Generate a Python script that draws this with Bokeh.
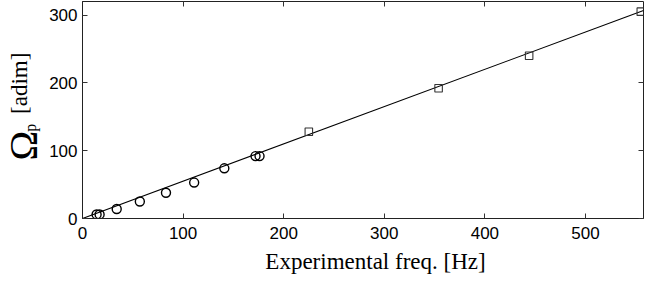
import math
from bokeh.plotting import figure
from bokeh.layouts import row, column
from bokeh.models import Range1d, LinearAxis, FixedTicker
from bokeh.core.properties import value
from bokeh.embed import file_html
from bokeh.resources import INLINE

# Data
circle_freq = [14, 17, 34, 57, 83, 111, 141, 172, 176]
circle_omega = [6, 6, 14, 25, 38, 53, 74, 92, 92]
square_freq = [225, 354, 444, 555]
square_omega = [128, 192, 240, 305]
fit_freq = [0, 557.7]
fit_omega = [0, 306.7]
x_ticks = [0, 100, 200, 300, 400, 500]
y_ticks = [0, 100, 200, 300]
x_label = "Experimental freq. [Hz]"
y_label_parts = ["Ω", "p", "[adim]"]

TOP_H = 244
W = 644
H = 274
YL_W = 46

p = figure(width=W - YL_W, height=TOP_H, output_backend="svg", toolbar_location=None,
           x_range=Range1d(0, 557.7), y_range=Range1d(0, 320),
           min_border_left=81 - YL_W, min_border_right=1, min_border_top=1,
           min_border_bottom=26)
p.grid.visible = False
p.outline_line_color = "#222222"
p.outline_line_width = 1

p.line(fit_freq, fit_omega, line_color="black", line_width=1.1)
p.scatter(circle_freq, circle_omega, marker="circle", size=9, fill_color=None,
          line_color="black", line_width=1.4)
p.scatter(square_freq, square_omega, marker="square", size=7.5, fill_color=None,
          line_color="#333333", line_width=1.1)

def style_axis(ax, ticks, show_labels=True, standoff=5):
    ax.ticker = FixedTicker(ticks=ticks)
    ax.minor_tick_line_color = None
    ax.major_tick_in = 5
    ax.major_tick_out = 0
    ax.major_tick_line_color = "#333333"
    ax.axis_line_color = "#222222"
    ax.major_label_text_font = "Liberation Sans"
    ax.major_label_text_font_size = "17px"
    ax.major_label_text_color = "black"
    ax.major_label_standoff = standoff
    if not show_labels:
        ax.major_label_overrides = {t: "" for t in ticks}
        ax.major_label_standoff = 0
        ax.axis_line_color = None

style_axis(p.xaxis[0], x_ticks, standoff=8)
style_axis(p.yaxis[0], y_ticks, standoff=5)

top = LinearAxis()
style_axis(top, x_ticks, show_labels=False)
p.add_layout(top, "above")
right = LinearAxis()
style_axis(right, y_ticks, show_labels=False)
p.add_layout(right, "right")

# y-axis label panel (coordinates in pixels of this small panel)
ylab = figure(width=YL_W, height=TOP_H, output_backend="svg", toolbar_location=None,
              x_range=Range1d(0, YL_W), y_range=Range1d(0, TOP_H),
              x_axis_location=None, y_axis_location=None, min_border=0)
ylab.grid.visible = False
ylab.outline_line_color = None
ylab.text(x=[23], y=[TOP_H - 162], text=[y_label_parts[0]], angle=math.pi / 2,
          text_align="center", text_baseline="middle",
          text_font=value("Liberation Serif"), text_font_size="40px", text_color="black")
ylab.text(x=[29.5], y=[TOP_H - 142], text=[y_label_parts[1]], angle=math.pi / 2,
          text_align="center", text_baseline="middle",
          text_font=value("Liberation Serif"), text_font_size="16px", text_color="black")
ylab.text(x=[18.5], y=[TOP_H - 92], text=[y_label_parts[2]], angle=math.pi / 2,
          text_align="center", text_baseline="middle",
          text_font=value("Liberation Serif"), text_font_size="23px", text_color="black")

# x-axis label panel
xlab = figure(width=W, height=H - TOP_H, output_backend="svg", toolbar_location=None,
              x_range=Range1d(0, W), y_range=Range1d(0, H - TOP_H),
              x_axis_location=None, y_axis_location=None, min_border=0)
xlab.grid.visible = False
xlab.outline_line_color = None
xlab.text(x=[375], y=[H - 261], text=[x_label], text_align="center",
          text_baseline="middle", text_font=value("Liberation Serif"),
          text_font_size="23px", text_color="black")

layout = column(row(ylab, p, spacing=0), xlab, spacing=0)
open("out.html", "w").write(file_html(layout, INLINE))
